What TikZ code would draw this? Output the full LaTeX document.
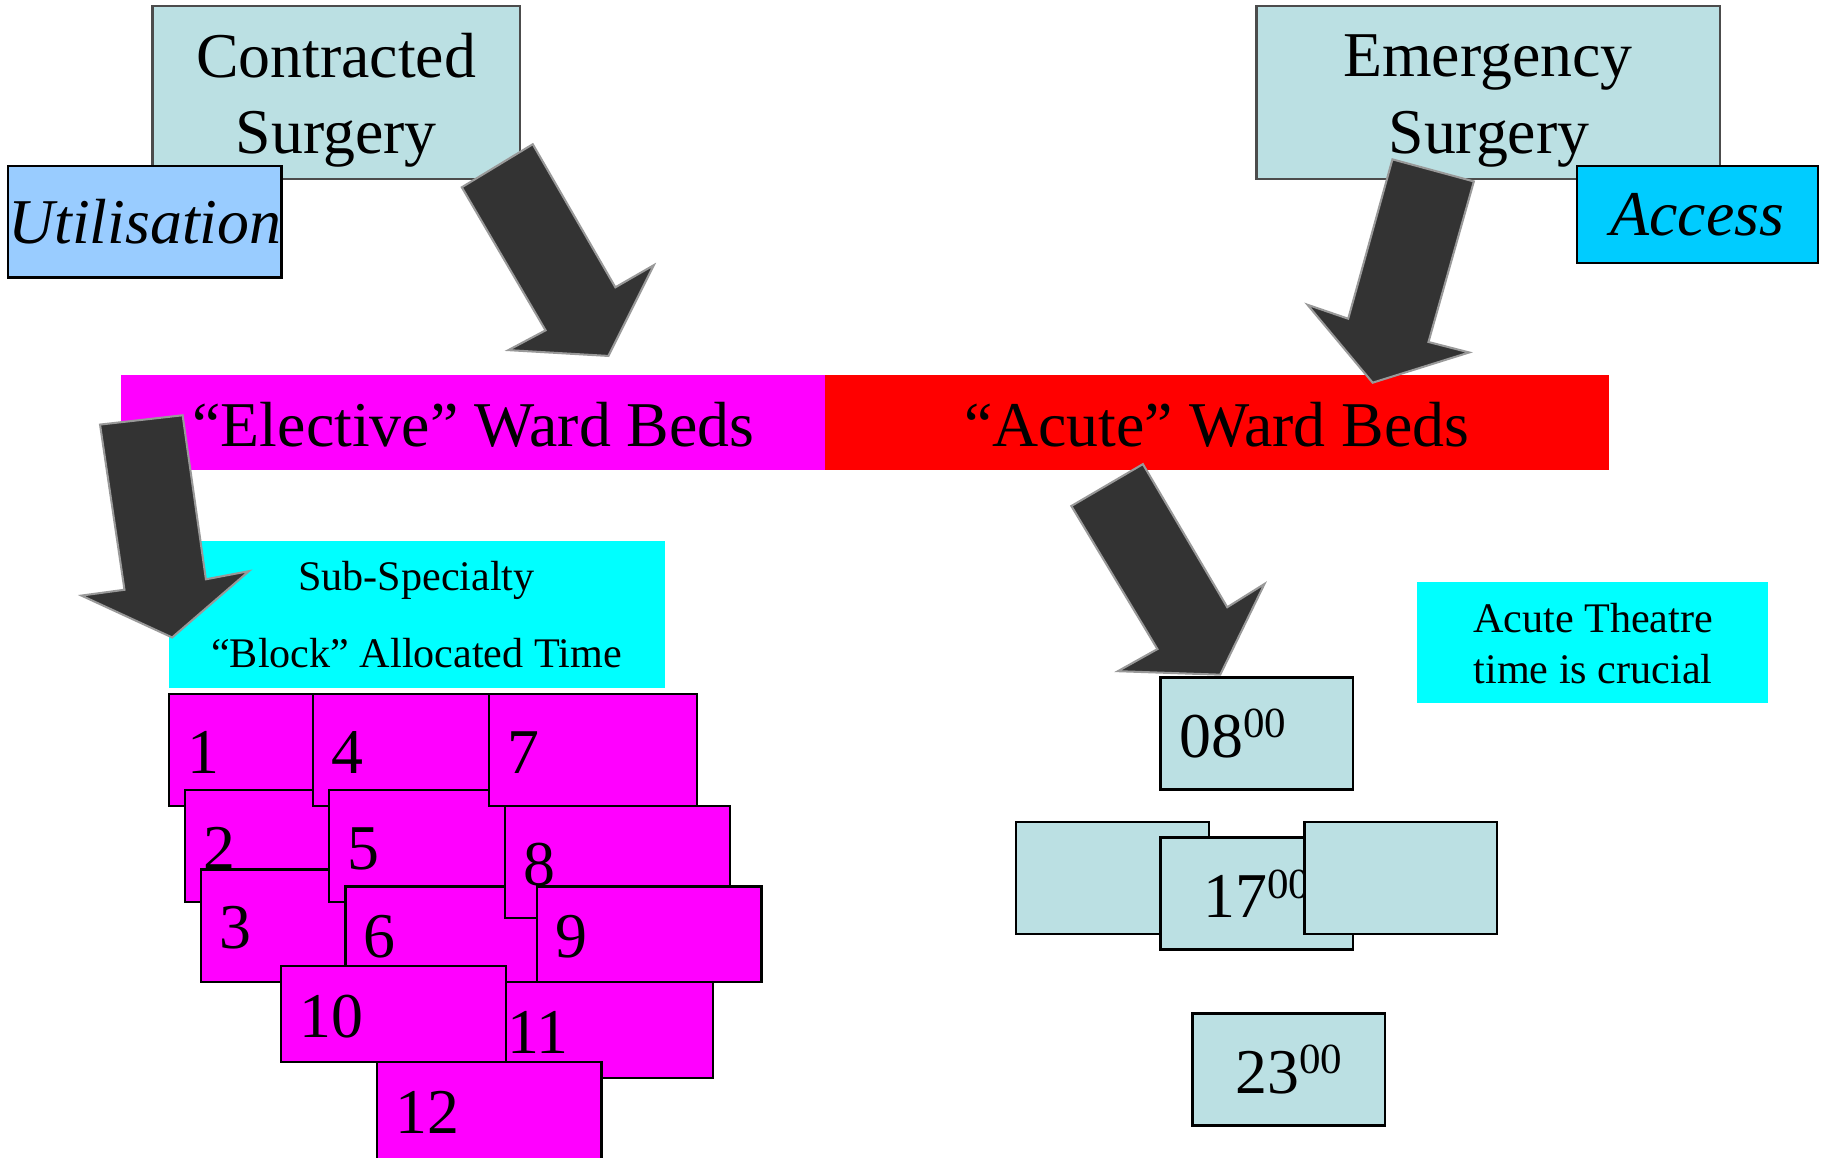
\documentclass[tikz,border=0pt]{standalone}
\usepackage{fontspec}
\setmainfont{Liberation Serif}

\definecolor{paleblue}{HTML}{BBE0E3}
\definecolor{utilblue}{HTML}{99CCFF}
\definecolor{accessblue}{HTML}{00CCFF}
\definecolor{wardpink}{HTML}{FF00FF}
\definecolor{wardred}{HTML}{FF0000}
\definecolor{notecyan}{HTML}{00FFFF}
\definecolor{arrowgrey}{HTML}{333333}

\newcommand{\bigtxt}{\fontsize{15.6}{18.7}\selectfont}
\newcommand{\smalltxt}{\fontsize{10.3}{12.4}\selectfont}
\newcommand{\hour}[1]{#1\raisebox{0.3em}{\fontsize{10.5}{12}\selectfont 00}}

\begin{document}
\begin{tikzpicture}[x=0.01cm,y=-0.01cm,
    every node/.style={inner sep=0pt,outer sep=0pt},
    surgerybox/.style={draw=black!70,fill=paleblue,line width=0.6pt,anchor=north west,minimum height=1.49cm},
    tagbox/.style={draw=black,line width=0.6pt,anchor=north west,font=\bigtxt\itshape},
    wardbar/.style={anchor=north west,minimum height=0.82cm,font=\bigtxt,text height=0.41cm,text depth=0pt},
    notebox/.style={fill=notecyan,anchor=north west},
    bigline/.style={anchor=base,font=\bigtxt},
    smallline/.style={anchor=base,font=\smalltxt},
    blockarrow/.style={fill=arrowgrey,draw=black!40,line width=0.5pt,line join=miter},
    numblock/.style={draw=black,fill=wardpink,line width=0.6pt,anchor=north west,font=\bigtxt,align=left,
        text height=0.4cm,text depth=0pt},
    slimblock/.style={minimum width=1.79cm,text width=1.47cm},
    wideblock/.style={minimum width=1.93cm,text width=1.61cm},
    tallblock/.style={minimum height=0.963cm},
    shortblock/.style={minimum height=0.822cm},
    clockbox/.style={draw=black,fill=paleblue,line width=0.6pt,anchor=north west,font=\bigtxt,
        minimum width=1.655cm,minimum height=0.962cm}]

    \useasboundingbox (0,0) rectangle (1568,995);

    % theatre types and what they are judged on
    \node[surgerybox,minimum width=3.16cm] (contract) at (131,5) {};
    \node[bigline] (contract1) at (289,66.5) {Contracted};
    \node[bigline] (contract2) at (289,132.4) {Surgery};
    \node[tagbox,fill=utilblue,minimum width=2.35cm,minimum height=0.96cm] (util) at (7,142.5) {Utilisation};

    \node[surgerybox,minimum width=3.985cm] (emerg) at (1080,5) {};
    \node[bigline] (emerg1) at (1279,66) {Emergency};
    \node[bigline] (emerg2) at (1280,132.4) {Surgery};
    \node[tagbox,fill=accessblue,minimum width=2.07cm,minimum height=0.835cm] (access) at (1355.5,142.5) {Access};

    % ward beds
    \node[wardbar,fill=wardpink,minimum width=6.05cm] (elective) at (104.4,322) {“Elective” Ward Beds};
    \node[wardbar,fill=wardred,minimum width=6.737cm] (acute) at (709,322) {“Acute” Ward Beds};

    \node[notebox,minimum width=4.263cm,minimum height=1.266cm] (subspec) at (145.2,465.2) {};
    \node[smallline] (subspec1) at (358,508) {Sub-Specialty};
    \node[smallline] (subspec2) at (358,573.5) {“Block” Allocated Time};

    \node[notebox,minimum width=3.02cm,minimum height=1.042cm] (theatre) at (1218,500.4) {};
    \node[smallline] (theatre1) at (1369.5,543.8) {Acute Theatre};
    \node[smallline] (theatre2) at (1369.5,587.6) {time is crucial};

    % block arrows
    \filldraw[blockarrow] (397,161) -- (458,124) -- (529,247) -- (562,228) -- (523,306) -- (437,301) -- (469,284) -- cycle;
    \filldraw[blockarrow] (1197,137) -- (1267,156) -- (1228,294) -- (1263,303) -- (1180,329) -- (1124,262) -- (1159,274) -- cycle;
    \filldraw[blockarrow] (86,365) -- (157,357) -- (177,498) -- (214,491) -- (148,548) -- (70,512) -- (107,507) -- cycle;
    \filldraw[blockarrow] (921,435) -- (982.5,399) -- (1055,522) -- (1087,502) -- (1049,580) -- (961,577) -- (995,558) -- cycle;

    % sub-specialty sessions
    \node[numblock,slimblock,tallblock] (b1) at (145.2,596.4) {1};
    \node[numblock,slimblock,tallblock] (b2) at (159.2,679) {2};
    \node[numblock,slimblock,tallblock] (b3) at (172.8,747.6) {3};
    \node[numblock,slimblock,tallblock] (b4) at (268.9,596.4) {4};
    \node[numblock,slimblock,tallblock] (b5) at (282.9,679) {5};
    \node[numblock,wideblock,shortblock] (b6) at (296.9,762.1) {6};
    \node[numblock,slimblock,tallblock] (b7) at (420.2,596.4) {7};
    \node[numblock,wideblock,tallblock] (b8) at (434.2,692.7) {8};
    \node[numblock,wideblock,shortblock] (b9) at (461.4,762.1) {9};
    \node[numblock,wideblock,shortblock] (b11) at (420,844.3) {11};
    \node[numblock,wideblock,shortblock] (b10) at (241.7,830.6) {10};
    \node[numblock,wideblock,minimum height=1cm,text depth=0.176cm] (b12) at (324.1,912.8) {12};

    % acute theatre day
    \node[clockbox,text width=1.335cm,align=left] (t08) at (997.7,582.5) {\hour{08}};
    \node[clockbox] (tleft) at (873.6,706.6) {};
    \node[clockbox] (t17) at (997.7,720.1) {\hour{17}};
    \node[clockbox] (tright) at (1121.3,706.6) {};
    \node[clockbox] (t23) at (1025,871.3) {\hour{23}};
\end{tikzpicture}
\end{document}
